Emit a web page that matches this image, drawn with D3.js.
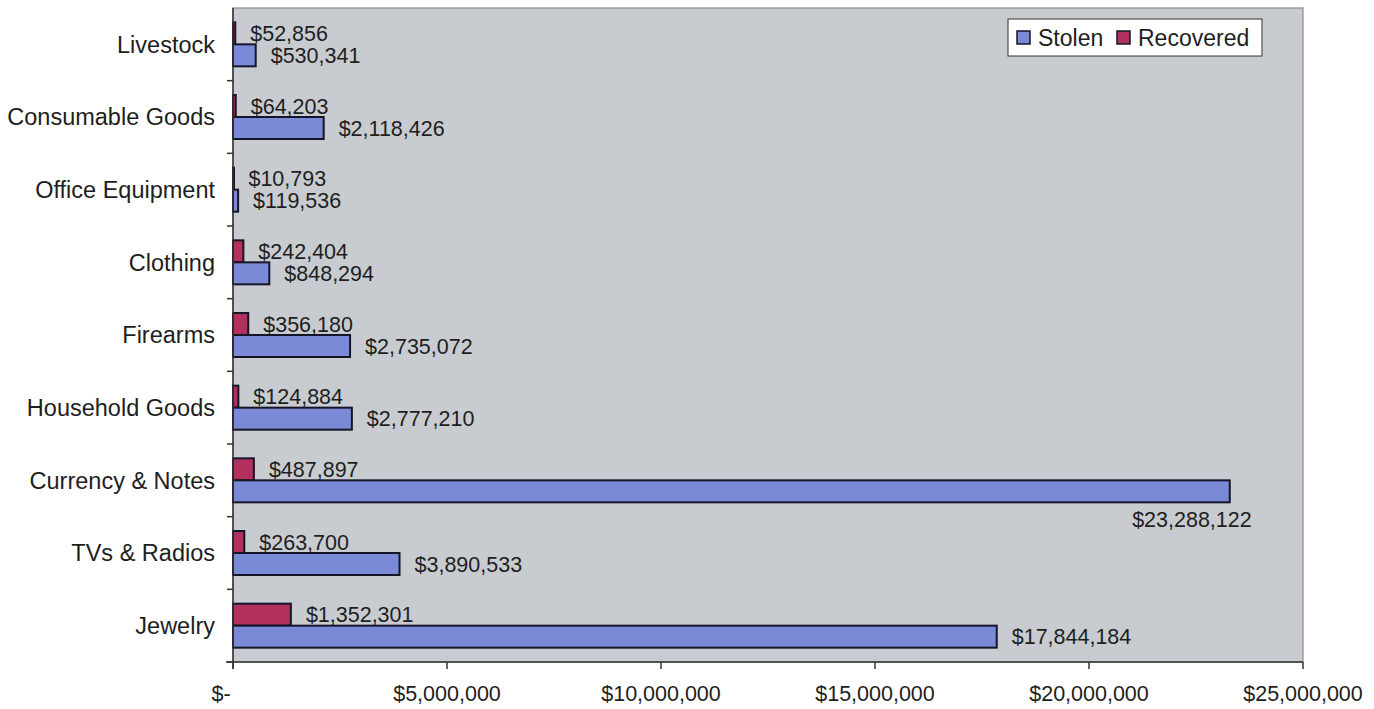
<!DOCTYPE html>
<html>
<head>
<meta charset="UTF-8">
<title>Stolen vs Recovered Property</title>
<style>
  body { margin: 0; background: #fff; }
  svg { display: block; font-family: "Liberation Sans", Arial, sans-serif; }
  .cat { font-size: 23.5px; fill: #1e1e1e; }
  .val { font-size: 21.5px; fill: #1e1e1e; }
  .leg { font-size: 23px; fill: #1e1e1e; }
  .tick-lbl { font-size: 21.5px; fill: #1e1e1e; }
</style>
</head>
<body>
<svg></svg>
<script src="https://d3js.org/d3.v7.min.js"></script>
<script>
// data, top to bottom as drawn
let categories = ["Livestock", "Consumable Goods", "Office Equipment", "Clothing", "Firearms",
                  "Household Goods", "Currency & Notes", "TVs & Radios", "Jewelry"];
let stolen    = [530341, 2118426, 119536, 848294, 2735072, 2777210, 23288122, 3890533, 17844184];
let recovered = [52856, 64203, 10793, 242404, 356180, 124884, 487897, 263700, 1352301];
let series = ["Recovered", "Stolen"];
let xTicks = [0, 5000000, 10000000, 15000000, 20000000, 25000000];

let width = 1374, height = 709;
let plot = {left: 233, top: 8, right: 1303, bottom: 662};

let svg = d3.select("svg").attr("width", width).attr("height", height);

let colors = {Stolen: "#7a8ad6", Recovered: "#b1305c"};

let x = d3.scaleLinear().domain([0, 25000000]).range([plot.left, plot.right]);
let y = d3.scaleBand().domain(categories).range([plot.top, plot.bottom]);
let barH = 22;
let ySub = d3.scaleBand().domain(series)
    .range([y.bandwidth() / 2 - barH, y.bandwidth() / 2 + barH]);

// plot area
svg.append("rect")
    .attr("x", plot.left).attr("y", plot.top)
    .attr("width", plot.right - plot.left).attr("height", plot.bottom - plot.top)
    .attr("fill", "#c8ccd0")
    .attr("stroke", "#8a8a8a").attr("stroke-width", 1.2);

let rows = categories.map((c, i) => ({cat: c, Stolen: stolen[i], Recovered: recovered[i]}));

let g = svg.append("g").selectAll("g")
    .data(rows).enter().append("g")
    .attr("transform", d => `translate(0,${y(d.cat)})`);

let fmt = d3.format("$,");

series.forEach(s => {
  g.append("rect")
    .attr("x", x(0))
    .attr("y", ySub(s))
    .attr("width", d => Math.max(x(d[s]) - x(0), 1))
    .attr("height", ySub.bandwidth())
    .attr("fill", colors[s])
    .attr("stroke", "#15152a")
    .attr("stroke-width", 2);

  // the biggest stolen value has its label under the bar
  g.append("text")
    .attr("class", "val")
    .attr("x", d => (s === "Stolen" && d.cat === "Currency & Notes") ? x(d[s]) + 22 : x(d[s]) + 15)
    .attr("y", d => (s === "Stolen" && d.cat === "Currency & Notes")
        ? ySub(s) + ySub.bandwidth() + 17
        : ySub(s) + ySub.bandwidth() / 2)
    .attr("dy", "0.36em")
    .attr("text-anchor", d => (s === "Stolen" && d.cat === "Currency & Notes") ? "end" : "start")
    .text(d => fmt(d[s]));
});

// left axis
let yAxis = svg.append("g");
yAxis.append("line")
    .attr("x1", plot.left).attr("x2", plot.left)
    .attr("y1", plot.top).attr("y2", plot.bottom + 7)
    .attr("stroke", "#333").attr("stroke-width", 1.5);
yAxis.selectAll("line.tk")
    .data(categories)
    .enter().append("line")
    .attr("class", "tk")
    .attr("x1", plot.left - 6).attr("x2", plot.left)
    .attr("y1", d => y(d) + y.bandwidth())
    .attr("y2", d => y(d) + y.bandwidth())
    .attr("stroke", "#333").attr("stroke-width", 1.5);
yAxis.selectAll("text")
    .data(categories).enter().append("text")
    .attr("class", "cat")
    .attr("x", plot.left - 18)
    .attr("y", d => y(d) + y.bandwidth() / 2)
    .attr("dy", "0.36em")
    .attr("text-anchor", "end")
    .text(d => d);

// bottom axis
let xAxis = svg.append("g");
xAxis.append("line")
    .attr("x1", plot.left - 7).attr("x2", plot.right)
    .attr("y1", plot.bottom).attr("y2", plot.bottom)
    .attr("stroke", "#333").attr("stroke-width", 1.5);
xAxis.selectAll("line.tk")
    .data(xTicks).enter().append("line")
    .attr("class", "tk")
    .attr("x1", d => x(d)).attr("x2", d => x(d))
    .attr("y1", plot.bottom).attr("y2", plot.bottom + 7)
    .attr("stroke", "#333").attr("stroke-width", 1.5);
xAxis.selectAll("text")
    .data(xTicks).enter().append("text")
    .attr("class", "tick-lbl")
    .attr("x", d => d === 0 ? x(d) - 12 : x(d))
    .attr("y", 693)
    .attr("dy", "0.36em")
    .attr("text-anchor", "middle")
    .text(d => d === 0 ? "$-" : fmt(d));

// legend
let leg = svg.append("g").attr("transform", "translate(1008,19)");
leg.append("rect")
    .attr("width", 254).attr("height", 37)
    .attr("fill", "#fff").attr("stroke", "#333").attr("stroke-width", 1);
let legItems = [{s: "Stolen", x: 9}, {s: "Recovered", x: 109}];
legItems.forEach(it => {
  leg.append("rect")
    .attr("x", it.x).attr("y", 12).attr("width", 13).attr("height", 13)
    .attr("fill", colors[it.s]).attr("stroke", "#15152a").attr("stroke-width", 1.5);
  leg.append("text")
    .attr("class", "leg")
    .attr("x", it.x + 21).attr("y", 19)
    .attr("dy", "0.36em")
    .text(it.s);
});
</script>
</body>
</html>
